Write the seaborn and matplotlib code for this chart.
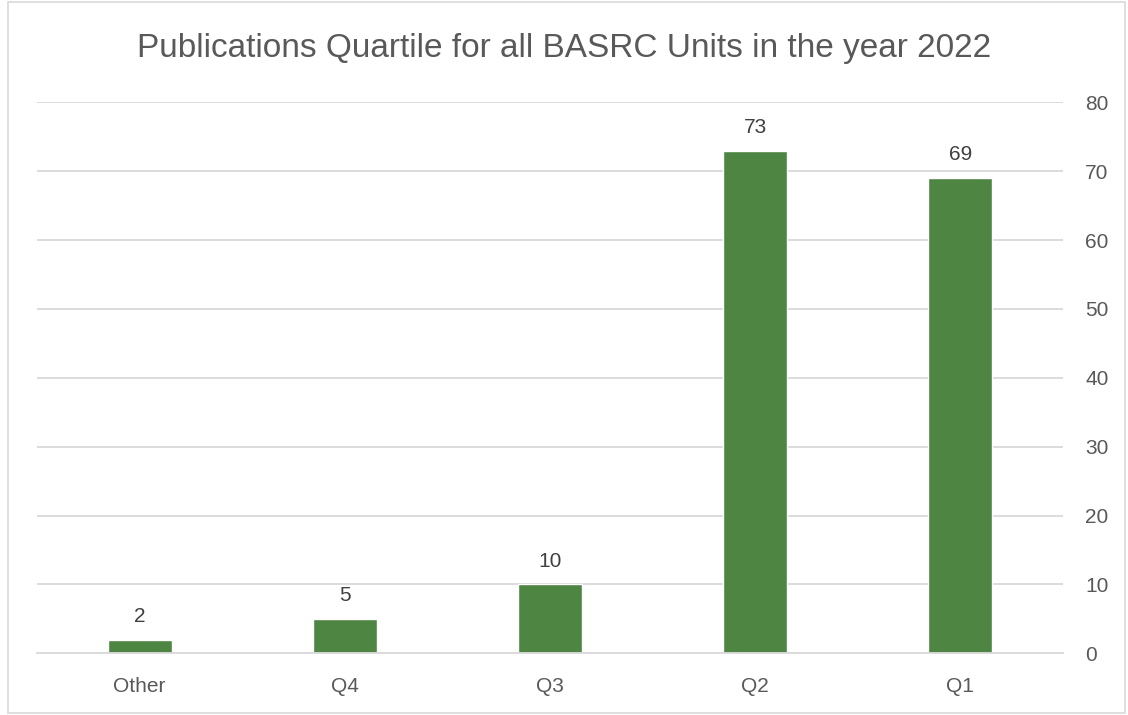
import matplotlib
matplotlib.use("Agg")
import matplotlib.pyplot as plt
import seaborn as sns
import pandas as pd
from matplotlib.patches import Rectangle

categories = ["Other", "Q4", "Q3", "Q2", "Q1"]
values = [2, 5, 10, 73, 69]
yticks = [0, 10, 20, 30, 40, 50, 60, 70, 80]
title = "Publications Quartile for all BASRC Units in the year 2022"

sns.set_theme(style="white")
plt.rcParams['font.family'] = ['Liberation Sans', 'DejaVu Sans']

W, H = 1128, 715
fig = plt.figure(figsize=(W / 100, H / 100), dpi=100)
ax = fig.add_axes([37 / W, 1 - 653.3 / H, (1063 - 37) / W, (653.3 - 102.3) / H])

df = pd.DataFrame({"cat": categories, "val": values})
sns.barplot(data=df, x="cat", y="val", color="#4E8542", saturation=1, width=0.312, ax=ax)

ax.set_xlim(-0.5, len(categories) - 0.5)
ax.set_ylim(0, 80)
ax.set_yticks(yticks)
ax.yaxis.tick_right()
ax.grid(axis="y", color="#D9D9D9", linewidth=1.3)
ax.set_axisbelow(True)
for s in ["top", "left", "right"]:
    ax.spines[s].set_visible(False)
ax.spines["bottom"].set_color("#D9D9D9")
ax.spines["bottom"].set_linewidth(1.3)
ax.tick_params(axis="both", length=0, colors="#595959", labelsize=15)
ax.tick_params(axis="y", pad=16)
ax.tick_params(axis="x", pad=17)
ax.set_xlabel("")
ax.set_ylabel("")
for c in ax.containers:
    ax.bar_label(c, padding=10, fontsize=15, color="#404040")

fig.text(0.5, 1 - 49 / H, title, ha="center", va="center", fontsize=24, color="#595959")
fig.patches.append(Rectangle((7.5 / W, 2 / H), (1125 - 7.5) / W, (713 - 2) / H,
                             transform=fig.transFigure, fill=False, edgecolor="#D9D9D9", linewidth=1.2))
fig.savefig("out.png", dpi=100)
